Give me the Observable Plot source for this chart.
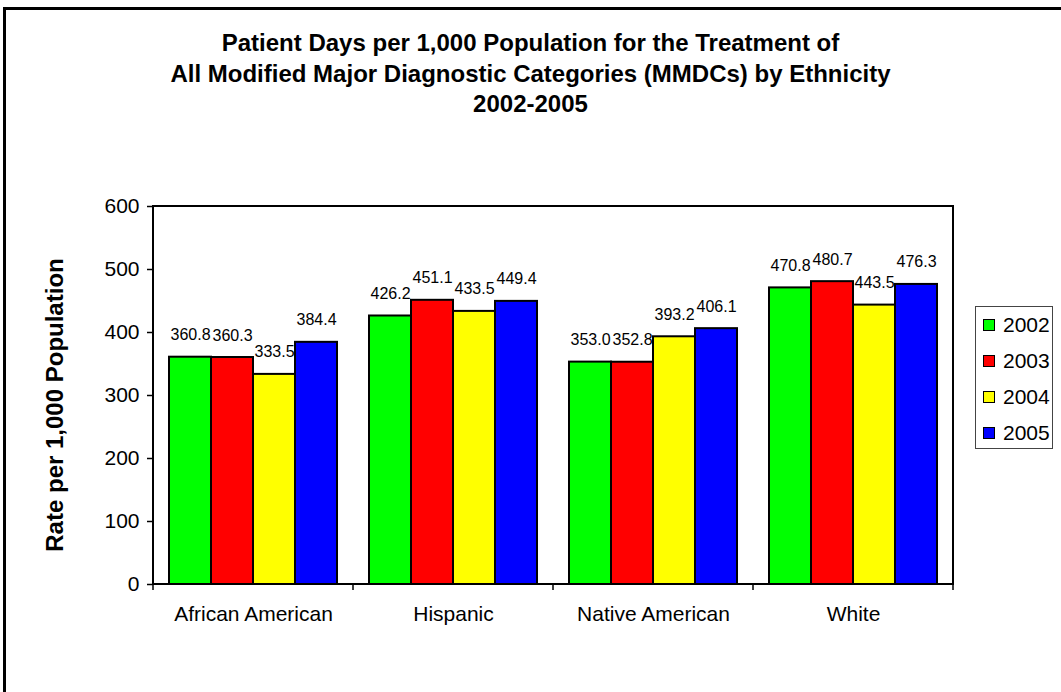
<!DOCTYPE html>
<html>
<head>
<meta charset="utf-8">
<script src="https://cdn.jsdelivr.net/npm/d3@7"></script>
<script src="https://cdn.jsdelivr.net/npm/@observablehq/plot@0.6"></script>
<style>
  html, body { margin: 0; padding: 0; background: #fff; }
  #wrap { position: relative; width: 1061px; height: 692px; overflow: hidden;
          font-family: Arial, "Liberation Sans", sans-serif; color: #000; }
  #border { position: absolute; left: 3px; top: 7px; width: 1200px; height: 800px;
            border-left: 3px solid #000; border-top: 3px solid #000; }
  #title { position: absolute; left: 0; top: 28px; width: 1061px; text-align: center;
           font-weight: bold; font-size: 24px; line-height: 30.5px; }
  #ylabel { position: absolute; left: 55px; top: 405px; white-space: nowrap;
            font-weight: bold; font-size: 24px;
            transform: translate(-50%, -50%) rotate(-90deg); }
  #legend { position: absolute; left: 975px; top: 306px; width: 78px; height: 143px;
            box-sizing: border-box; border: 1px solid #444; background: #fff; }
  .item { position: absolute; left: 0; height: 36px; width: 76px; }
  .sw { position: absolute; left: 7px; top: 12px; width: 12px; height: 12px;
        box-sizing: border-box; border: 1.5px solid #000; }
  .lab { position: absolute; left: 27px; top: 0; line-height: 36px; font-size: 21px; }
  #chart { position: absolute; left: 0; top: 0; }
</style>
</head>
<body>
<div id="wrap">
  <div id="border"></div>
  <div id="chart"></div>
  <div id="title"></div>
  <div id="ylabel"></div>
  <div id="legend"></div>
</div>
<script>
// ---- data ----
const titleLines = [
  "Patient Days per 1,000 Population for the Treatment of",
  "All Modified Major Diagnostic Categories (MMDCs) by Ethnicity",
  "2002-2005"
];
const yLabel = "Rate per 1,000 Population";
const categories = ["African American", "Hispanic", "Native American", "White"];
const years = ["2002", "2003", "2004", "2005"];
const v2002 = [360.8, 426.2, 353.0, 470.8];
const v2003 = [360.3, 451.1, 352.8, 480.7];
const v2004 = [333.5, 433.5, 393.2, 443.5];
const v2005 = [384.4, 449.4, 406.1, 476.3];
const yearColors = ["#00ff00", "#ff0000", "#ffff00", "#0000ff"];
const yTicks = [0, 100, 200, 300, 400, 500, 600];

const series = [v2002, v2003, v2004, v2005];
const data = [];
categories.forEach((c, i) => {
  years.forEach((yr, j) => data.push({category: c, year: yr, value: series[j][i]}));
});

// ---- texts ----
document.getElementById("title").innerHTML = titleLines.join("<br>");
document.getElementById("ylabel").textContent = yLabel;
const legend = document.getElementById("legend");
years.forEach((yr, j) => {
  const it = document.createElement("div");
  it.className = "item";
  it.style.top = (j * 36) + "px";
  it.innerHTML = `<div class="sw" style="background:${yearColors[j]}"></div><div class="lab">${yr}</div>`;
  legend.appendChild(it);
});

// ---- chart ----
const plot = Plot.plot({
  width: 1061,
  height: 692,
  marginLeft: 153,
  marginRight: 108,
  marginTop: 206,
  marginBottom: 108,
  style: {fontFamily: 'Arial, "Liberation Sans", sans-serif', background: "transparent", color: "#000"},
  fx: {domain: categories, padding: 0, label: null},
  x: {domain: years, paddingInner: 0, paddingOuter: 0.33, axis: null},
  y: {domain: [0, 600], label: null},
  color: {domain: years, range: yearColors},
  marks: [
    Plot.barY(data, {fx: "category", x: "year", y: "value", fill: "year", stroke: "#000", strokeWidth: 2}),
    Plot.text(data, {fx: "category", x: "year", y: "value", text: d => d.value.toFixed(1),
      lineAnchor: "bottom", dy: -17, fontSize: 16, fill: "#000"}),
    Plot.axisY({ticks: yTicks, tickSize: 6, tickPadding: 8, fontSize: 21, label: null, strokeWidth: 1.5}),
    Plot.axisFx({anchor: "bottom", tickSize: 0, tickPadding: 22, fontSize: 21, label: null})
  ]
});
document.getElementById("chart").appendChild(plot);

// outer frame and category boundary ticks from the plot's own scales
const fxs = plot.scale("fx");
const ys = plot.scale("y");
const x0 = fxs.range[0], x1 = fxs.range[1];
const yb = ys.range[0], yt = ys.range[1];
const g = d3.select(plot).append("g");
g.append("rect").attr("x", x0).attr("y", yt).attr("width", x1 - x0).attr("height", yb - yt)
  .attr("fill", "none").attr("stroke", "#000").attr("stroke-width", 2);
const bounds = [x0].concat(categories.map(c => fxs.apply(c) + fxs.bandwidth));
g.selectAll("line.b").data(bounds).join("line")
  .attr("x1", d => d).attr("x2", d => d).attr("y1", yb).attr("y2", yb + 6)
  .attr("stroke", "#000").attr("stroke-width", 1.5);
</script>
</body>
</html>
